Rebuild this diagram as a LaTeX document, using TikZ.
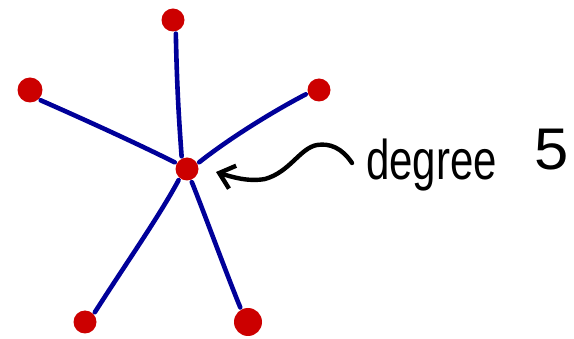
\documentclass[tikz,border=0pt]{standalone}
\usepackage{fontspec}
\usepackage{graphicx}
\setmainfont{Liberation Sans}
\usetikzlibrary{arrows.meta}
\definecolor{vred}{HTML}{CC0000}
\definecolor{eblue}{HTML}{000099}
\begin{document}
\begin{tikzpicture}[x=1pt,y=-1pt,
  vtx/.style={circle,fill=vred,inner sep=0pt,outer sep=0pt,minimum size=23pt},
  edge/.style={draw=eblue,line width=4.6pt,line cap=round,shorten <=2.5pt,shorten >=2.5pt},
  pointer/.style={draw=black,line width=4.4pt,line cap=round,line join=round,
    -{Straight Barb[length=14pt,width=24pt,line width=4.4pt]}},
  lbl/.style={inner sep=0pt,outer sep=0pt,font=\fontsize{56}{60}\selectfont}]
\useasboundingbox (0,0) rectangle (574,339);
\node[vtx] (c) at (187,169) {};
\node[vtx] (t) at (173,20) {};
\node[vtx,minimum size=25pt] (l) at (30,90) {};
\node[vtx] (r) at (319,90) {};
\node[vtx] (bl) at (85,322) {};
\node[vtx,minimum size=28pt] (br) at (248,322) {};
\path[edge] (t.-76) .. controls (177,90) and (179,120) .. (c.117);
\path[edge] (l.-48) .. controls (90,122) and (140,145) .. (c.151);
\path[edge] (r.-164) .. controls (272,112) and (230,138) .. (c.27);
\path[edge] (bl.42) .. controls (125,265) and (160,215) .. (c.231);
\path[edge] (br.119) .. controls (225,270) and (205,215) .. (c.-70);
\node[lbl,anchor=base west] (deg) at (366,180) {\scalebox{0.75}[1]{degree}};
\node[lbl,anchor=base west] (five) at (534,170) {\scalebox{1.1}[1.05]{5}};
\coordinate (tail) at (352,163);
\coordinate (head) at (216,172);
\draw[pointer] (tail) .. controls (342,148) and (330,143) .. (317,145)
  .. controls (300,148) and (290,172) .. (265,179)
  .. controls (248,182) and (232,177) .. (head);
\end{tikzpicture}
\end{document}
